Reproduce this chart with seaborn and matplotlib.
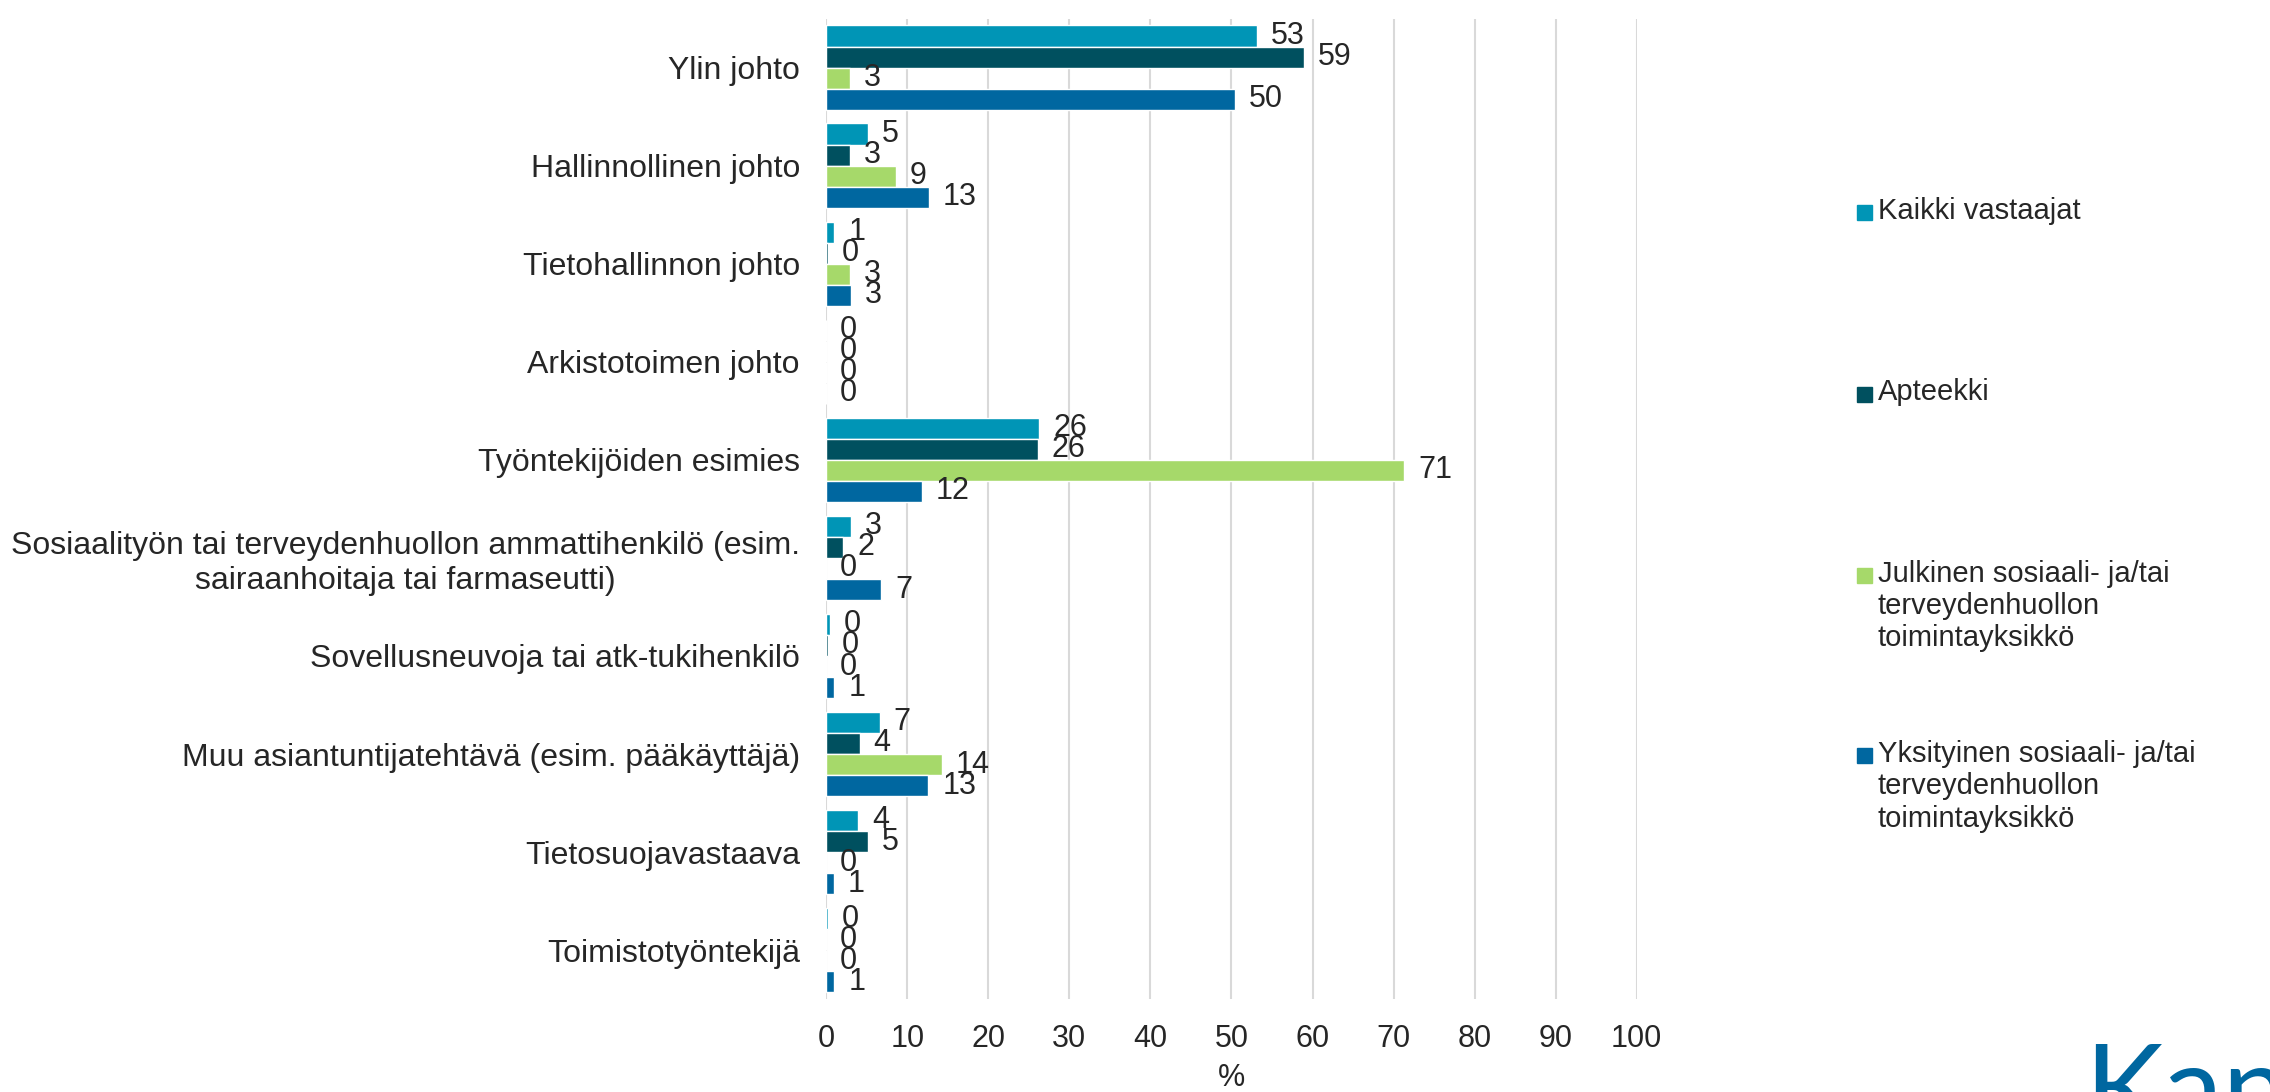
import pandas as pd
import seaborn as sns
import matplotlib.pyplot as plt
from matplotlib.patches import Rectangle

#%% Data (percent of respondents)
categories = ['Ylin johto', 'Hallinnollinen johto', 'Tietohallinnon johto',
              'Arkistotoimen johto', 'Työntekijöiden esimies',
              'Sosiaalityön tai terveydenhuollon ammattihenkilö (esim.\nsairaanhoitaja tai farmaseutti)',
              'Sovellusneuvoja tai atk-tukihenkilö',
              'Muu asiantuntijatehtävä (esim. pääkäyttäjä)',
              'Tietosuojavastaava', 'Toimistotyöntekijä']
series = ['Kaikki vastaajat', 'Apteekki',
          'Julkinen sosiaali- ja/tai\nterveydenhuollon\ntoimintayksikkö',
          'Yksityinen sosiaali- ja/tai\nterveydenhuollon\ntoimintayksikkö']
kaikki = [53.2, 5.2, 1.0, 0.0, 26.3, 3.0, 0.4, 6.6, 3.9, 0.2]
apteekki = [58.9, 2.9, 0.2, 0.0, 26.1, 2.1, 0.2, 4.1, 5.2, 0.0]
julkinen = [2.9, 8.6, 2.9, 0.0, 71.3, 0.0, 0.0, 14.3, 0.0, 0.0]
yksityinen = [50.4, 12.7, 3.0, 0.0, 11.8, 6.8, 1.0, 12.6, 0.9, 1.0]
colors = ['#0095b6', '#00505f', '#a6d96a', '#0067a0']

df = pd.DataFrame({'cat': categories * 4,
                   'series': [s for s in series for _ in categories],
                   'value': kaikki + apteekki + julkinen + yksityinen})

#%% Plot
sns.set_style('white')
plt.rcParams['font.family'] = ['Liberation Sans', 'DejaVu Sans']
txt = '#262626'

fig, ax = plt.subplots(figsize=(22.7, 10.92), dpi=100)
fig.subplots_adjust(left=0.364, right=0.721, top=0.983, bottom=0.085)

sns.barplot(data=df, y='cat', x='value', hue='series', hue_order=series,
            palette=colors, saturation=1, width=0.86, orient='h',
            legend=False, ax=ax)

for c in ax.containers:
    ax.bar_label(c, fmt='%.0f', padding=10, fontsize=22, color=txt)

ax.set_xlim(0, 100)
ax.set_xticks(range(0, 101, 10))
ax.set_axisbelow(True)
ax.xaxis.grid(True, color='#d9d9d9', linewidth=1.5)
sns.despine(ax=ax, left=True, bottom=True)
ax.tick_params(axis='y', length=0, pad=19, labelsize=23, labelcolor=txt)
ax.tick_params(axis='x', length=0, pad=18, labelsize=22, labelcolor=txt)
for lab in ax.get_yticklabels():
    lab.set_multialignment('center')
ax.set_ylabel('')
ax.set_xlabel('%', fontsize=22, color=txt, labelpad=6)

#%% Legend (spread out like the original)
leg_y = [0.805, 0.639, 0.473, 0.308]
for s, col, y in zip(series, colors, leg_y):
    fig.add_artist(Rectangle((0.818, y - 0.0068), 0.0066, 0.0137,
                             transform=fig.transFigure, color=col))
    fig.text(0.8273, y + 0.0145, s, fontsize=21, color=txt, va='top',
             linespacing=1.2)

# logo, partly outside the canvas
fig.text(0.918, 0.046, 'Kanta', fontsize=86, color='#0067a0', va='top',
         family='Lato')

plt.savefig('out.png', dpi=100)
